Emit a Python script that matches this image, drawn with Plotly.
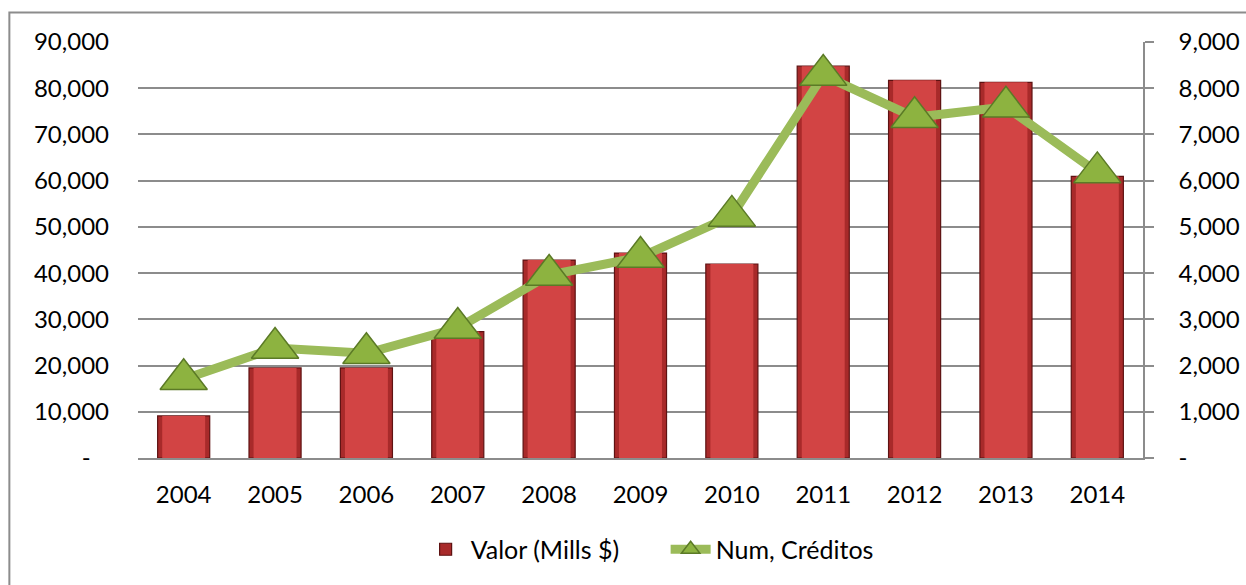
import plotly.graph_objects as go

years = ["2004", "2005", "2006", "2007", "2008", "2009", "2010", "2011", "2012", "2013", "2014"]
valor_mills = [9100, 19480, 19480, 27360, 42830, 44330, 41970, 84770, 81700, 81270, 60930]
num_creditos = [1704, 2378, 2266, 2811, 3960, 4347, 5238, 8284, 7371, 7597, 6179]

left_tickvals = [0, 10000, 20000, 30000, 40000, 50000, 60000, 70000, 80000, 90000]
left_ticktext = ["-\u00a0\u00a0\u00a0", "10,000", "20,000", "30,000", "40,000", "50,000",
                 "60,000", "70,000", "80,000", "90,000"]
right_tickvals = [0, 1000, 2000, 3000, 4000, 5000, 6000, 7000, 8000, 9000]
right_ticktext = ["-", "1,000", "2,000", "3,000", "4,000", "5,000",
                  "6,000", "7,000", "8,000", "9,000"]

FONT = "Lato, Carlito, Calibri, sans-serif"
GRID = "#8C8C8C"

fig = go.Figure()

# outer bar (dark edge)
fig.add_trace(go.Bar(
    x=years, y=valor_mills, name="Valor (Mills $)", width=0.57,
    marker=dict(color="#A82A2A", line=dict(color="#5E1212", width=1.2)),
    showlegend=True, hoverinfo="skip",
))
# inner lighter body to suggest bevel
fig.add_trace(go.Bar(
    x=years, y=valor_mills, width=0.47,
    marker=dict(color="#D24444", line=dict(width=0)),
    showlegend=False, hoverinfo="skip",
))

fig.add_trace(go.Scatter(
    x=years, y=num_creditos, yaxis="y2", name="Num, Créditos",
    mode="lines+markers",
    line=dict(color="#9BBB59", width=9),
    marker=dict(symbol="triangle-up", size=41, color="#8DB340",
                line=dict(color="#5B7A26", width=1.5)),
    hoverinfo="skip",
))

fig.update_layout(
    width=1246, height=585,
    margin=dict(l=138, r=103, t=42, b=124),
    paper_bgcolor="white", plot_bgcolor="white",
    barmode="overlay",
    font=dict(family=FONT, size=24, color="#000000"),
    xaxis=dict(
        type="category", range=[-0.5, len(years) - 0.5], automargin=False,
        showgrid=False, showline=True, linecolor=GRID, linewidth=1.5,
        ticks="", ticklabelstandoff=14, tickfont=dict(size=24),
    ),
    yaxis=dict(
        range=[0, 90000], tickvals=left_tickvals, ticktext=left_ticktext, automargin=False,
        showgrid=True, gridcolor=GRID, gridwidth=1.5, zeroline=False,
        showline=False, ticks="", ticklabelstandoff=28, tickfont=dict(size=24),
    ),
    yaxis2=dict(
        range=[0, 9000], tickvals=right_tickvals, ticktext=right_ticktext, automargin=False,
        overlaying="y", side="right", showgrid=False, zeroline=False,
        showline=True, linecolor=GRID, linewidth=1.5,
        ticks="outside", ticklen=9, tickcolor=GRID, tickwidth=1.5,
        ticklabelstandoff=20, tickfont=dict(size=24),
    ),
    legend=dict(
        orientation="h", x=0.525, xanchor="center", y=-0.22, yanchor="middle",
        font=dict(size=25), itemwidth=40, entrywidth=190, entrywidthmode="pixels",
        bgcolor="rgba(0,0,0,0)",
    ),
    shapes=[dict(
        type="rect", xref="paper", yref="paper",
        x0=-0.128, x1=1.11, y0=-0.32, y1=1.0709,
        line=dict(color="#8C8C8C", width=2), fillcolor="rgba(0,0,0,0)", layer="below",
    )],
)

fig.write_html("out.html", config={"displayModeBar": False},
               post_script="document.body.style.margin='0px';")
